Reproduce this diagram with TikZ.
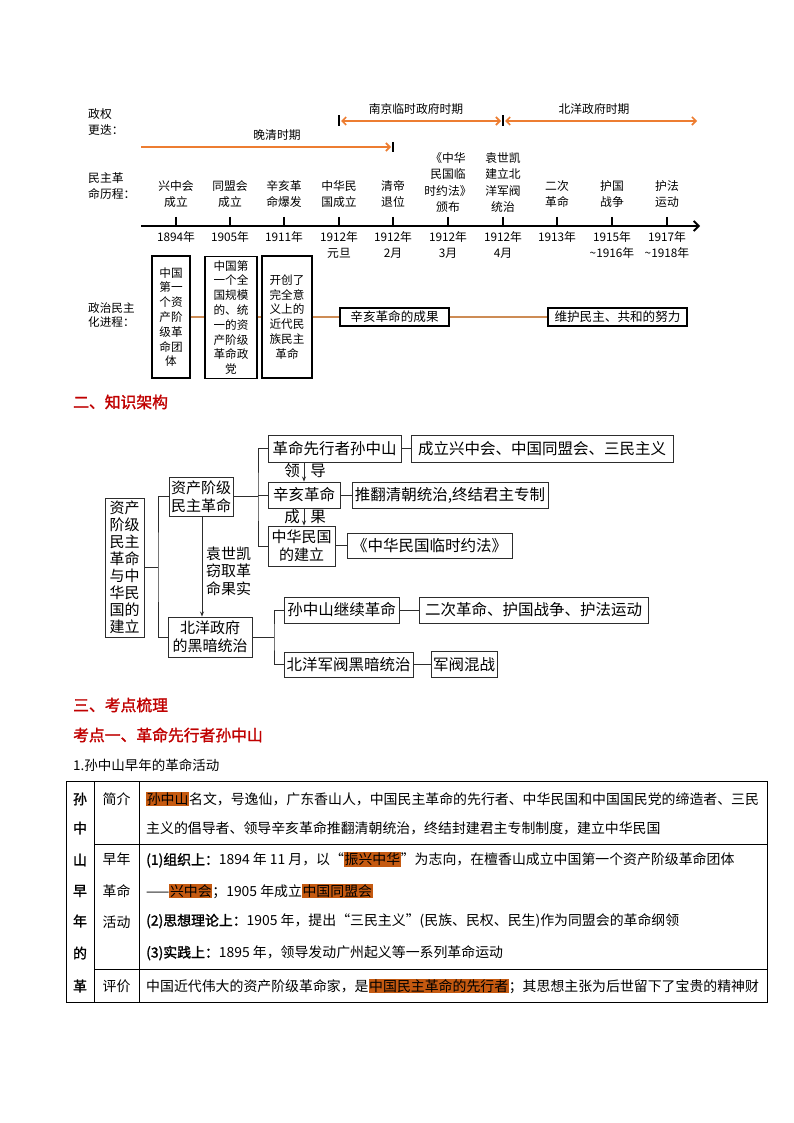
\documentclass[tikz,border=0pt]{standalone}
\usepackage{fontspec}
\setmainfont{Noto Sans CJK SC}[BoldFont={Noto Sans CJK SC},BoldFeatures={FakeBold=1.6}]
\usetikzlibrary{arrows.meta}
\definecolor{eraorange}{RGB}{237,125,49}
\definecolor{linkbrown}{RGB}{205,140,85}
\definecolor{headred}{RGB}{192,0,0}
\definecolor{hlorange}{RGB}{197,90,17}
\definecolor{framegray}{RGB}{45,45,45}
\newcommand\fsev{\fontsize{11.8}{16.3}\selectfont}
\newcommand\fsbx{\fontsize{11.6}{14.8}\selectfont}
\newcommand\fsbw{\fontsize{12.6}{15}\selectfont}
\newcommand\fsfr{\fontsize{15.5}{17.5}\selectfont}
\newcommand\fshd{\fontsize{15.8}{18}\selectfont\bfseries}
\newcommand\fstb{\fontsize{13.9}{16}\selectfont}
\newcommand\hl[1]{{\setlength\fboxsep{0.6pt}\colorbox{hlorange}{#1}}}
\begin{document}
\begin{tikzpicture}[x=1pt,y=-1pt,
  every node/.style={inner sep=0pt},
  ev/.style={font=\fsev, align=center},
  yr/.style={font=\fsev, align=center, anchor=north},
  side/.style={font=\fsev, align=left, anchor=west},
  mbox/.style={draw, line width=1.1pt, font=\fsbx, align=center},
  joinline/.style={draw=linkbrown, line width=1.8pt},
  era/.style={draw=eraorange, line width=1.6pt},
  fbox/.style={draw=framegray, line width=0.9pt, font=\fsfr, align=center},
  fline/.style={draw=framegray, line width=0.9pt},
  head/.style={font=\fshd, text=headred, anchor=west},
  cell/.style={font=\fstb, anchor=west},
  barb/.tip={Straight Barb[length=4pt,width=8pt]}]
\useasboundingbox[fill=white] (0,0) rectangle (794,1123);
\node[side] (zq) at (88,122) {政权\\更迭：};
\node[side] (mz) at (88,186) {民主革\\命历程：};
\node[side, font=\fsbx] (zz) at (88,315) {政治民主\\化进程：};
\coordinate (qs) at (141,147);
\coordinate (qe) at (393,147);
\coordinate (ns) at (339,121);
\coordinate (ne) at (503,121);
\coordinate (be) at (697,121);
\draw[line width=1.4pt] (qe) ++(0,-5) -- ++(0,10);
\draw[line width=1.4pt] (ns) ++(0,-5.5) -- ++(0,11);
\draw[line width=1.4pt] (ne) ++(0,-5.5) -- ++(0,11);
\draw[era,-barb] (qs) -- ([xshift=-2pt]qe);
\draw[era,barb-barb] ([xshift=2pt]ns) -- ([xshift=-2pt]ne);
\draw[era,barb-barb] ([xshift=2pt]ne) -- (be);
\node[ev] (wq) at (277,135) {晚清时期};
\node[ev] (nj) at (416,109) {南京临时政府时期};
\node[ev] (bysq) at (594,109) {北洋政府时期};
\coordinate (ax0) at (141,226);
\coordinate (ax1) at (700,226);
\draw[line width=1.8pt,-{Straight Barb[length=5pt,width=10pt]}] (ax0) -- (ax1);
\foreach \x/\ey/\ev/\yr [count=\i] in {
  176/194/{兴中会\\成立}/{1894年},
  230/194/{同盟会\\成立}/{1905年},
  284/194/{辛亥革\\命爆发}/{1911年},
  339/194/{中华民\\国成立}/{1912年\\元旦},
  393/194/{清帝\\退位}/{1912年\\2月},
  448/182.5/{《中华\\民国临\\时约法》\\颁布}/{1912年\\3月},
  503/182.5/{袁世凯\\建立北\\洋军阀\\统治}/{1912年\\4月},
  557/194/{二次\\革命}/{1913年},
  612/194/{护国\\战争}/{1915年\\\textasciitilde1916年},
  667/194/{护法\\运动}/{1917年\\\textasciitilde1918年}}{
  \draw[line width=1.4pt] (\x,217) -- (\x,226);
  \node[ev] (ev\i) at (\x,\ey) {\ev};
  \node[yr] (yr\i) at (\x,231) {\yr};
}
\node[mbox, minimum width=38pt, minimum height=122pt] (gx1) at (171,317) {中国\\第一\\个资\\产阶\\级革\\命团\\体};
\node[mbox, minimum width=52pt, minimum height=122pt] (gx2) at (231,317.5) {中国第\\一个全\\国规模\\的、统\\一的资\\产阶级\\革命政\\党};
\node[mbox, minimum width=50pt, minimum height=122pt] (gx3) at (287,317) {开创了\\完全意\\义上的\\近代民\\族民主\\革命};
\node[mbox, font=\fsbw, minimum width=109pt, minimum height=18pt] (gx4) at (394.5,317) {辛亥革命的成果};
\node[mbox, font=\fsbw, minimum width=139pt, minimum height=18pt] (gx5) at (617.5,317) {维护民主、共和的努力};
\draw[joinline] (gx1.east) -- (gx1.east -| gx2.west);
\draw[joinline] (gx2.east |- gx3.west) -- (gx3.west);
\draw[joinline] (gx3) -- (gx4);
\draw[joinline] (gx4) -- (gx5);
\node[head] (h2) at (73,402) {二、知识架构};
\node[fbox, minimum width=39pt, minimum height=139pt, font=\fontsize{15}{17}\selectfont] (root) at (124.5,567.5) {资产\\阶级\\民主\\革命\\与中\\华民\\国的\\建立};
\node[fbox, minimum width=64pt, minimum height=39pt, font=\fontsize{15}{18}\selectfont] (zc) at (201,496.5) {资产阶级\\民主革命};
\node[fbox, minimum width=84pt, minimum height=40pt, font=\fontsize{15}{18}\selectfont] (bz) at (210,637) {北洋政府\\的黑暗统治};
\node[fbox, minimum width=133pt, minimum height=27pt] (xxz) at (334.5,448.5) {革命先行者孙中山};
\node[fbox, minimum width=262pt, minimum height=27pt] (clx) at (542,448.5) {成立兴中会、中国同盟会、三民主义};
\node[fbox, minimum width=72pt, minimum height=26pt] (xh) at (304,495) {辛亥革命};
\node[fbox, minimum width=196pt, minimum height=26pt] (tf) at (450,495) {推翻清朝统治,终结君主专制};
\node[fbox, minimum width=67pt, minimum height=40pt, font=\fontsize{15}{18}\selectfont] (zh) at (301.5,546) {中华民国\\的建立};
\node[fbox, minimum width=165pt, minimum height=25pt] (yf) at (429.5,545.5) {《中华民国临时约法》};
\node[fbox, minimum width=115pt, minimum height=26pt] (sz) at (341.5,610) {孙中山继续革命};
\node[fbox, minimum width=229pt, minimum height=26pt] (ec) at (533.5,610) {二次革命、护国战争、护法运动};
\node[fbox, minimum width=129pt, minimum height=25pt] (bj) at (348.5,664.5) {北洋军阀黑暗统治};
\node[fbox, minimum width=66pt, minimum height=26pt] (jf) at (464,664.5) {军阀混战};
\coordinate (j0) at (158,567.5);
\coordinate (j1) at (258,496.5);
\coordinate (j2) at (274,637);
\draw[fline] (root.east) -- (j0);
\draw[fline] (zc.west) -| (j0) |- (bz.west);
\draw[fline] (zc.east) -- (j1);
\draw[fline] (xxz.west) -| (j1) |- (zh.west);
\draw[fline] (j1 |- xh.west) -- (xh.west);
\draw[fline] (bz.east) -- (j2);
\draw[fline] (sz.west) -| (j2) |- (bj.west);
\draw[fline] (xxz) -- (clx);
\draw[fline] (xh) -- (tf);
\draw[fline] (zh.east |- yf.west) -- (yf.west);
\draw[fline] (sz) -- (ec);
\draw[fline] (bj) -- (jf);
\draw[fline,-{Stealth[length=5pt,width=4pt]}] (xxz.south -| xh.north) -- (xh.north);
\draw[fline,-{Stealth[length=5pt,width=4pt]}] (xh.south) -- (xh.south |- zh.north);
\draw[fline,-{Stealth[length=5pt,width=4pt]}] ([xshift=1pt]zc.south) -- ([xshift=1pt]zc.south |- bz.north);
\node[font=\fsfr] (ling) at (292,471) {领};
\node[font=\fsfr] (dao) at (318,471) {导};
\node[font=\fsfr] (cheng) at (292,517) {成};
\node[font=\fsfr] (guo) at (318,517) {果};
\node[font=\fontsize{15}{17.5}\selectfont, align=left, anchor=west] (ysk) at (206,571) {袁世凯\\窃取革\\命果实};
\node[head] (h3) at (73,705) {三、考点梳理};
\node[head] (kd1) at (73,735) {考点一、革命先行者孙中山};
\node[anchor=west, font=\fontsize{13.5}{16}\selectfont] (sub1) at (73,765) {1.孙中山早年的革命活动};
\draw[line width=0.9pt] (66,781) rectangle (767,1002);
\draw[line width=0.9pt] (94,781) -- (94,1002);
\draw[line width=0.9pt] (139,781) -- (139,1002);
\draw[line width=0.9pt] (94,844) -- (767,844);
\draw[line width=0.9pt] (94,969) -- (767,969);
\foreach \ch/\yy [count=\i] in {孙/799, 中/828, 山/860, 早/891, 年/921, 的/953, 革/986}
  \node[font=\fstb\bfseries] (col\i) at (80,\yy) {\ch};
\node[font=\fstb] (jj) at (116.5,799) {简介};
\node[font=\fstb, align=center] (znhd) at (116.5,891) {早年\\[15.4pt]革命\\[15.4pt]活动};
\node[font=\fstb] (pj) at (116.5,986) {评价};
\node[cell] (r1) at (146,799) {\hl{孙中山}名文，号逸仙，广东香山人，中国民主革命的先行者、中华民国和中国国民党的缔造者、三民};
\node[cell] (r2) at (146,828) {主义的倡导者、领导辛亥革命推翻清朝统治，终结封建君主专制制度，建立中华民国};
\node[cell] (r3) at (146,860) {\textbf{(1)组织上：}1894 年 11 月，以“\hl{振兴中华}”为志向，在檀香山成立中国第一个资产阶级革命团体};
\node[cell] (r4) at (146,891) {——\hl{兴中会}；1905 年成立\hl{中国同盟会}};
\node[cell] (r5) at (146,921) {\textbf{(2)思想理论上：}1905 年，提出“三民主义”(民族、民权、民生)作为同盟会的革命纲领};
\node[cell] (r6) at (146,953) {\textbf{(3)实践上：}1895 年，领导发动广州起义等一系列革命运动};
\node[cell] (r7) at (146,986) {中国近代伟大的资产阶级革命家，是\hl{中国民主革命的先行者}；其思想主张为后世留下了宝贵的精神财};
\end{tikzpicture}
\end{document}
